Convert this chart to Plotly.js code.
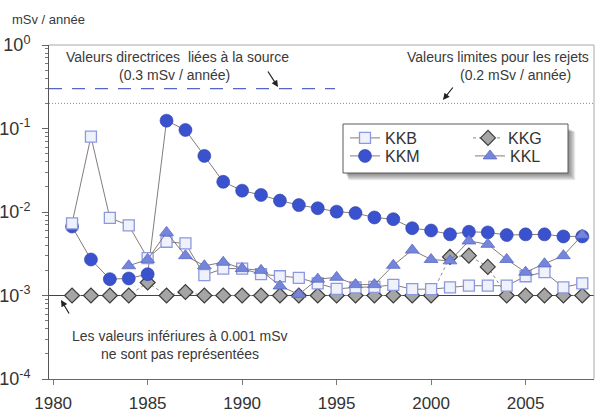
<!DOCTYPE html>
<html>
<head>
<meta charset="utf-8">
<script src="https://cdn.plot.ly/plotly-3.0.1.min.js"></script>
<style>
  html, body { margin: 0; padding: 0; background: #fff; }
  #chart { width: 597px; height: 412px; }
</style>
</head>
<body>
<div id="chart"></div>
<script>
// Annual dose to the public near each nuclear plant (mSv / année)
const years = [1981, 1982, 1983, 1984, 1985, 1986, 1987, 1988, 1989, 1990,
               1991, 1992, 1993, 1994, 1995, 1996, 1997, 1998, 1999, 2000,
               2001, 2002, 2003, 2004, 2005, 2006, 2007, 2008];

const kkb = [0.0073, 0.080, 0.0085, 0.0069, 0.0028, 0.0044, 0.0042, 0.00175, 0.0021, 0.0021,
             0.0018, 0.0017, 0.00163, 0.0014, 0.0012, 0.00125, 0.00127, 0.00134, 0.00119, 0.00119,
             0.00125, 0.00131, 0.00131, 0.00131, 0.0017, 0.0019, 0.00125, 0.0014];

const kkm = [0.0067, 0.0027, 0.00157, 0.0016, 0.0018, 0.124, 0.096, 0.047, 0.023, 0.018,
             0.016, 0.0137, 0.0121, 0.0111, 0.0101, 0.0097, 0.0086, 0.0082, 0.0064, 0.0060,
             0.0054, 0.0058, 0.0057, 0.0053, 0.0054, 0.0054, 0.0051, 0.0051];

const kkg = [0.001, 0.001, 0.001, 0.001, 0.00143, 0.001, 0.0011, 0.001, 0.001, 0.001,
             0.001, 0.001, 0.001, 0.001, 0.001, 0.001, 0.001, 0.001, 0.001, 0.001,
             0.0029, 0.0030, 0.0022, 0.001, 0.001, 0.001, 0.001, 0.001];

const kkl = [null, null, null, 0.00227, 0.0027, 0.0057, 0.0030, 0.00227, 0.0025, 0.0021,
             0.0020, 0.0013, 0.00103, 0.00157, 0.00165, 0.00135, 0.00135, 0.0023, 0.0035, 0.0027,
             0.0026, 0.0045, 0.0041, 0.0027, 0.0019, 0.0024, 0.0030, 0.0053];

// Reference levels
const sourceGuideline = 0.3;   // valeur directrice liée à la source
const dischargeLimit = 0.2;    // valeur limite pour les rejets
const reportingFloor = 0.001;  // seuil de représentation

const xTicks = [1980, 1985, 1990, 1995, 2000, 2005];
const yTicks = [1e-4, 1e-3, 1e-2, 1e-1, 1];
const yTickText = ['10<sup>-4</sup>', '10<sup>-3</sup>', '10<sup>-2</sup>', '10<sup>-1</sup>', '10<sup>0</sup>'];

// Plot frame in pixels
const W = 597, H = 412;
const M = { l: 49, r: 3, t: 45, b: 33 };
const PW = W - M.l - M.r, PH = H - M.t - M.b;
const px = x => (x - M.l) / PW;
const py = y => 1 - (y - M.t) / PH;

const FONT = 'Liberation Sans, Arial, sans-serif';
const TXT = '#3a3a3a';
const LINK = { color: '#776c6c', width: 0.9 };

const minorVals = [];
for (let d = -4; d < 0; d++) for (let k = 2; k <= 9; k++) minorVals.push(k * Math.pow(10, d));

const traces = [
  { name: 'KKG', x: years, y: kkg, mode: 'lines+markers', legend: 'legend2',
    line: { color: '#8a8a8a', width: 1, dash: 'dot' },
    marker: { symbol: 'diamond', size: 11.5, color: '#a5a5a5', line: { color: '#3c3c3c', width: 1.2 } } },
  { name: 'KKM', x: years, y: kkm, mode: 'lines+markers', legend: 'legend3',
    line: LINK,
    marker: { symbol: 'circle', size: 13, color: '#3b52cf', line: { color: '#2d40a8', width: 0.6 } } },
  { name: 'KKB', x: years, y: kkb, mode: 'lines+markers', legend: 'legend',
    line: LINK,
    marker: { symbol: 'square', size: 11, color: '#eff1fb', line: { color: '#8c98df', width: 1.3 } } },
  { name: 'KKL', x: years, y: kkl, mode: 'lines+markers', legend: 'legend4',
    line: LINK, connectgaps: false,
    marker: { symbol: 'triangle-up', size: 12, color: '#7485da', line: { color: '#5a6bc6', width: 0.8 } } }
];

// Legend frame with a soft drop shadow
const box = { x0: 343, x1: 568, y0: 124, y1: 173 };
const shapes = [];
for (let i = 1; i <= 6; i++) {
  shapes.push({ type: 'rect', xref: 'paper', yref: 'paper', layer: 'above',
    x0: px(box.x0 + 2 + i * 0.6), x1: px(box.x1 + i * 1.2),
    y0: py(box.y0 + 4 + i * 0.6), y1: py(box.y1 + i * 1.2),
    fillcolor: 'rgba(40,40,40,0.11)', line: { width: 0 } });
}
shapes.push({ type: 'rect', xref: 'paper', yref: 'paper', layer: 'above',
  x0: px(box.x0), x1: px(box.x1), y0: py(box.y0), y1: py(box.y1),
  fillcolor: '#ffffff', line: { color: '#5a5a5a', width: 1 } });

// Reference lines and frame edges
shapes.push(
  { type: 'line', xref: 'paper', yref: 'y', layer: 'below', x0: 0, x1: px(335),
    y0: sourceGuideline, y1: sourceGuideline, line: { color: '#5566c8', width: 1.2, dash: '13px,10px' } },
  { type: 'line', xref: 'paper', yref: 'y', layer: 'below', x0: 0, x1: 1,
    y0: dischargeLimit, y1: dischargeLimit, line: { color: '#8a8a8a', width: 1, dash: '1px,2px' } },
  { type: 'line', xref: 'paper', yref: 'y', layer: 'below', x0: 0, x1: 1,
    y0: reportingFloor, y1: reportingFloor, line: { color: '#444', width: 1 } },
  { type: 'line', xref: 'paper', yref: 'paper', layer: 'below', x0: 0, x1: 1, y0: 1, y1: 1,
    line: { color: '#a8a8a8', width: 1 } },
  { type: 'line', xref: 'paper', yref: 'paper', layer: 'below', x0: 1, x1: 1, y0: 0, y1: 1,
    line: { color: '#a8a8a8', width: 1 } }
);

const note = (text, x, y, extra) => Object.assign({
  text, xref: 'paper', yref: 'paper', x, y, showarrow: false,
  xanchor: 'center', yanchor: 'middle', font: { family: FONT, size: 14, color: TXT }
}, extra || {});

const pointer = (hx, hy, ax, ay) => ({
  text: '', xref: 'paper', yref: 'paper', x: px(hx), y: py(hy), ax, ay,
  showarrow: true, arrowhead: 2, arrowsize: 1.1, arrowwidth: 1.2, arrowcolor: '#222', standoff: 0
});

const annotations = [
  note('mSv / année', px(10), py(20), { xanchor: 'left', font: { family: FONT, size: 13, color: TXT } }),
  note('Valeurs directrices  liées à la source', px(177), py(57)),
  note('(0.3 mSv / année)', px(174), py(75)),
  note('Valeurs limites pour les rejets', px(498), py(57)),
  note('(0.2 mSv / année)', px(515), py(75)),
  note('Les valeurs infériures à 0.001 mSv', px(180), py(336)),
  note('ne sont pas représentées', px(180), py(354)),
  pointer(278, 87, -11, -17),
  pointer(443, 100, 11, -14),
  pointer(61, 300, 9, 15)
];

// One legend per entry so the 2 x 2 grid can be placed freely inside the frame
const legendAt = (x, y) => ({
  orientation: 'v', xanchor: 'left', yanchor: 'top', bgcolor: 'rgba(0,0,0,0)', borderwidth: 0,
  font: { family: FONT, size: 16, color: '#333' }, itemwidth: 30, tracegroupgap: 0,
  x: px(x), y: py(y)
});

const layout = {
  width: W, height: H,
  margin: { l: M.l, r: M.r, t: M.t, b: M.b, pad: 0 },
  paper_bgcolor: '#ffffff', plot_bgcolor: '#ffffff',
  showlegend: true,
  font: { family: FONT, color: TXT },
  xaxis: {
    range: [1979.78, 2008.62], tickmode: 'array', tickvals: xTicks,
    ticks: 'outside', ticklen: 5, tickcolor: '#777', tickwidth: 1,
    showline: true, linecolor: '#666', linewidth: 1, showgrid: false, zeroline: false,
    tickfont: { family: FONT, size: 17, color: '#333' }, ticklabelstandoff: 4, automargin: false
  },
  yaxis: {
    type: 'log', range: [-4, 0], tickmode: 'array', tickvals: yTicks, ticktext: yTickText,
    ticks: 'outside', ticklen: 6, tickcolor: '#666', tickwidth: 1,
    minor: { tickmode: 'array', tickvals: minorVals, ticks: 'outside', ticklen: 3, tickcolor: '#777', showgrid: false },
    showline: true, linecolor: '#555', linewidth: 1, showgrid: false, zeroline: false,
    tickfont: { family: FONT, size: 18, color: '#333' }, ticklabelstandoff: 8, automargin: false
  },
  legend: legendAt(345, 121),
  legend2: legendAt(468, 121),
  legend3: legendAt(345, 139),
  legend4: legendAt(470, 139),
  shapes, annotations
};

Plotly.newPlot('chart', traces, layout, { displayModeBar: false, staticPlot: true });
</script>
</body>
</html>
